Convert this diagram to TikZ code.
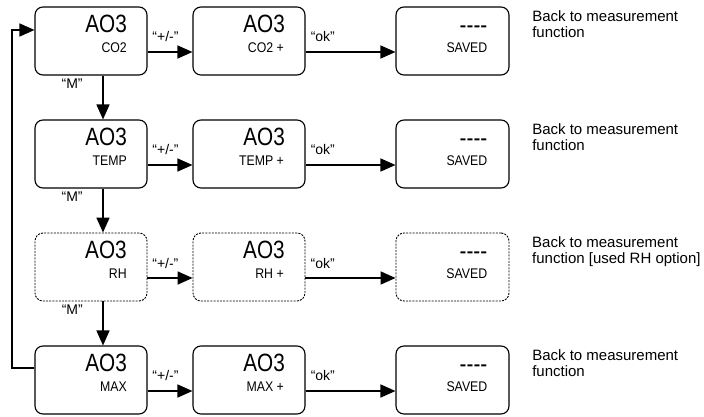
\documentclass[tikz,border=0pt]{standalone}
\usepackage{fontspec}
\setmainfont{Liberation Sans}
\newfontfamily\narrowbig{Liberation Sans}[FakeStretch=0.83]
\newfontfamily\narrowsmall{Liberation Sans}[FakeStretch=0.88]
\usetikzlibrary{arrows.meta,calc}
\tikzset{
  stbox/.style={draw=black, line width=1.1pt, rounded corners=8pt, minimum width=112pt, minimum height=68pt, inner sep=0pt},
  dbox/.style={stbox, dash pattern=on 2pt off 1.2pt, line width=0.9pt},
  bigtxt/.style={font=\narrowbig\fontsize{25}{25}\selectfont, anchor=base east, inner sep=0pt},
  smalltxt/.style={font=\narrowsmall\fontsize{14}{14}\selectfont, anchor=base east, inner sep=0pt},
  lbl/.style={font=\fontsize{14}{14}\selectfont, anchor=base west, inner sep=0pt},
  note/.style={font=\fontsize{15}{16}\selectfont, anchor=base west, align=left, inner sep=0pt},
  arr/.style={line width=1.6pt, -{Triangle[length=15pt,width=13pt]}},
}
\begin{document}
\begin{tikzpicture}[x=1pt,y=-1pt]
\useasboundingbox (0,0) rectangle (704,417);
% column A
\node[stbox] (a1) at (91,41) {};
\node[stbox] (a2) at (91,154) {};
\node[dbox]  (a3) at (91,267) {};
\node[stbox] (a4) at (91,380) {};
% column B
\node[stbox] (b1) at (249,41) {};
\node[stbox] (b2) at (249,154) {};
\node[dbox]  (b3) at (249,267) {};
\node[stbox] (b4) at (249,380) {};
% column C
\node[stbox, minimum width=113pt] (c1) at (452.5,41) {};
\node[stbox, minimum width=113pt] (c2) at (452.5,154) {};
\node[dbox, minimum width=113pt]  (c3) at (452.5,267) {};
\node[stbox, minimum width=113pt] (c4) at (452.5,380) {};
% texts
\foreach \r/\s in {1/CO2,2/TEMP,3/RH,4/MAX}{
  \node[bigtxt] (ta\r) at ($(a\r.north east)+(-20.5,26)$) {AO3};
  \node[smalltxt] (sa\r) at ($(a\r.north east)+(-20.5,46)$) {\s};
  \node[bigtxt] (tb\r) at ($(b\r.north east)+(-20.5,26)$) {AO3};
  \node[smalltxt] (sb\r) at ($(b\r.north east)+(-21.5,46)$) {\s\ +};
  \node[bigtxt] (tc\r) at ($(c\r.north east)+(-22,27)$) {----};
  \node[smalltxt] (sc\r) at ($(c\r.north east)+(-22,46)$) {SAVED};
  \draw[arr] ([yshift=-11pt]a\r.east) -- ([yshift=-11pt]b\r.west);
  \draw[arr] ([yshift=-11pt]b\r.east) -- ([yshift=-11pt]c\r.west);
  \node[lbl] (pm\r) at ($(a\r.north east)+(4.7,35.5)$) {“+/-”};
  \node[lbl] (ok\r) at ($(b\r.north east)+(5,35.5)$) {“ok”};
}
% vertical arrows
\foreach \r/\n in {1/2,2/3,3/4}{
  \draw[arr] ([xshift=12pt]a\r.south) -- ([xshift=12pt]a\n.north);
  \node[lbl] (m\r) at ($(a\r.south west)+(27,13)$) {“M”};
}
% loop back
\coordinate (loopx) at (12,200);
\draw[arr] ([yshift=12pt]a4.west) -| (loopx) |- ([yshift=11pt]a1.west);
% notes (base anchor = last line baseline)
\node[note] (n1) at ($(c1.north east)+(22.5,30.7)$) {Back to measurement\\function};
\node[note] (n2) at ($(c2.north east)+(22.5,30.7)$) {Back to measurement\\function};
\node[note] (n3) at ($(c3.north east)+(22.5,30.7)$) {Back to measurement\\function [used RH option]};
\node[note] (n4) at ($(c4.north east)+(22.5,30.7)$) {Back to measurement\\function};
\end{tikzpicture}
\end{document}
